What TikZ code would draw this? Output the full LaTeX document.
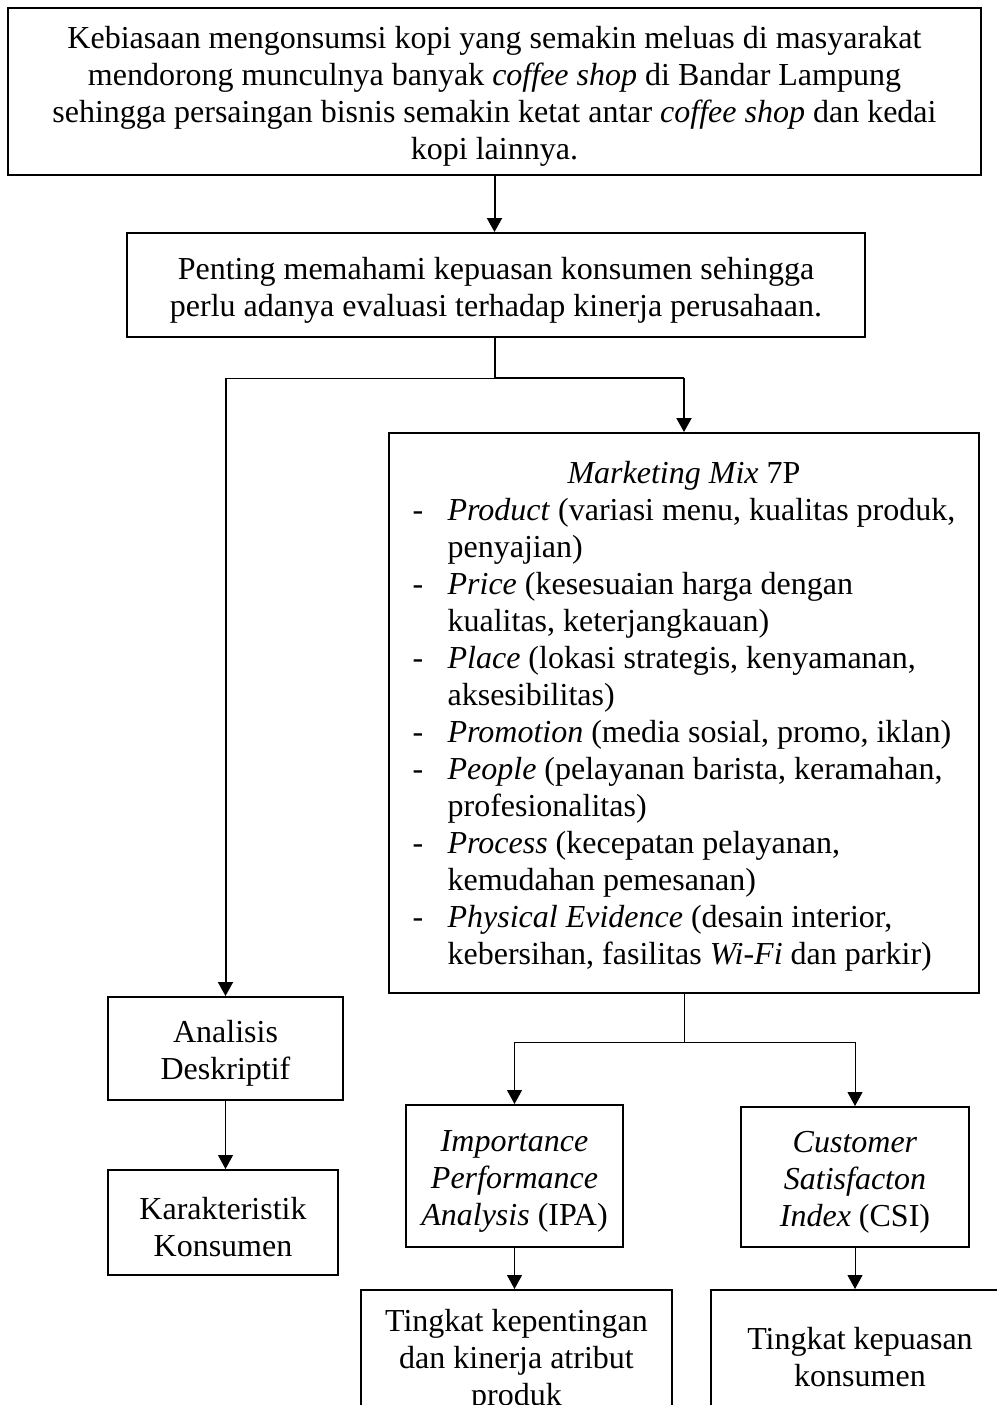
\documentclass[tikz,border=0pt]{standalone}
\usepackage{fontspec}
\setmainfont{Liberation Serif}
\usetikzlibrary{arrows.meta}

\newcommand\atas{\rule{0pt}{16pt}}
\tikzset{
  box/.style={draw, line width=1pt, align=center, inner sep=0pt},
  thickline/.style={line width=1pt},
  thinline/.style={line width=0.5pt},
  thickarrow/.style={line width=1pt, -{Triangle[width=7.5pt,length=7pt]}},
  thinarrow/.style={line width=0.5pt, -{Triangle[width=7.5pt,length=7pt]}},
}

\begin{document}
\begin{tikzpicture}[x=0.5pt,y=0.5pt,yscale=-1,xscale=1,
  font=\fontsize{16}{18.5}\selectfont]
\useasboundingbox (0,0) rectangle (997,1405);
\clip (0,0) rectangle (997,1405);

%Shape: Rectangle [latar belakang]
\node [box, minimum width=486.5pt, minimum height=83.5pt] (latar) at (494.5,91.5)
  {\atas Kebiasaan mengonsumsi kopi yang semakin meluas di masyarakat\\
   mendorong munculnya banyak \textit{coffee shop} di Bandar Lampung\\
   sehingga persaingan bisnis semakin ketat antar \textit{coffee shop} dan kedai\\
   kopi lainnya.};
%Shape: Rectangle [kepuasan]
\node [box, minimum width=369pt, minimum height=52pt] (penting) at (496,285)
  {\atas Penting memahami kepuasan konsumen sehingga\\
   perlu adanya evaluasi terhadap kinerja perusahaan.};
%Shape: Rectangle [marketing mix]
\node [box, minimum width=295pt, minimum height=280pt] (mix) at (684,713)
  {\begin{tabular}{@{}p{17.5pt}@{}l@{}}
   \multicolumn{2}{c}{\rule{0pt}{17pt}\textit{Marketing Mix} 7P}\\
   - & \textit{Product} (variasi menu, kualitas produk,\\
     & penyajian)\\
   - & \textit{Price} (kesesuaian harga dengan\\
     & kualitas, keterjangkauan)\\
   - & \textit{Place} (lokasi strategis, kenyamanan,\\
     & aksesibilitas)\\
   - & \textit{Promotion} (media sosial, promo, iklan)\\
   - & \textit{People} (pelayanan barista, keramahan,\\
     & profesionalitas)\\
   - & \textit{Process} (kecepatan pelayanan,\\
     & kemudahan pemesanan)\\
   - & \textit{Physical Evidence} (desain interior,\\
     & kebersihan, fasilitas \textit{Wi-Fi} dan parkir)
   \end{tabular}};
%Shape: Rectangle [analisis]
\node [box, minimum width=117.5pt, minimum height=51.5pt] (deskriptif) at (225.5,1048.5)
  {\atas Analisis\\ Deskriptif};
\node [box, minimum width=115pt, minimum height=52.5pt] (karakter) at (223,1222.5)
  {\atas Karakteristik\\ Konsumen};
\node [box, minimum width=108.5pt, minimum height=71pt] (ipa) at (514.5,1176)
  {\atas\textit{Importance}\\ \textit{Performance}\\ \textit{Analysis} (IPA)};
\node [box, minimum width=114pt, minimum height=70pt] (csi) at (855,1177)
  {\atas\textit{Customer}\\ \textit{Satisfacton}\\ \textit{Index} (CSI)};
%Shape: Rectangle [hasil]
\node [box, minimum width=155.5pt, minimum height=66pt] (hasilipa) at (516.5,1356)
  {\atas Tingkat kepentingan\\ dan kinerja atribut\\ produk};
\node [box, minimum width=149.5pt, minimum height=62pt] (hasilcsi) at (860,1352)
  {\atas Tingkat kepuasan\\ konsumen};

%Straight Lines
\coordinate (cabang) at (495,378);
\coordinate (kiri) at (deskriptif.north |- cabang);
\coordinate (kanan) at (mix.north |- cabang);
\draw [thickarrow] (latar.south) -- (latar.south |- penting.north) ;
\draw [thickline] (penting.south -| cabang) -- (cabang) -- (kanan) ;
\draw [thickarrow] (kanan) -- (mix.north) ;
\draw [thinline] (cabang) -- (kiri) ;
\draw [thickarrow] (kiri) -- (deskriptif.north) ;
\draw [thinarrow] (deskriptif.south) -- (deskriptif.south |- karakter.north) ;

\coordinate (cabang2) at (mix.south |- 0,1042);
\draw [thinline] (mix.south) -- (cabang2) ;
\draw [thinarrow] (cabang2) -| (ipa.north) ;
\draw [thinarrow] (cabang2) -| (csi.north) ;
\draw [thinarrow] (ipa.south) -- (hasilipa.north -| ipa.south) ;
\draw [thinarrow] (csi.south) -- (hasilcsi.north -| csi.south) ;

\end{tikzpicture}
\end{document}
